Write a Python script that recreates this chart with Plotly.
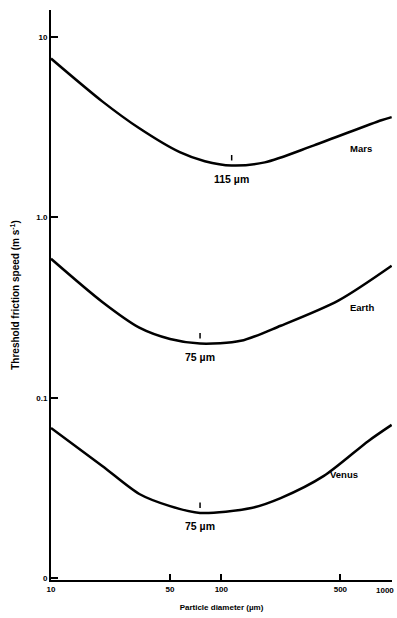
import math
import plotly.graph_objects as go

# Particle diameter (µm) and threshold friction speed (m/s)
mars_d = [10, 20, 33, 57, 80, 115, 180, 350, 870, 1000]
mars_v = [7.6, 4.4, 3.12, 2.30, 2.05, 1.94, 2.02, 2.51, 3.46, 3.6]

earth_d = [10, 20, 33, 50, 75, 130, 223, 486, 1000]
earth_v = [0.59, 0.34, 0.245, 0.212, 0.20, 0.207, 0.251, 0.346, 0.54]

venus_d = [10, 20, 33, 50, 75, 150, 223, 400, 731, 1000]
venus_v = [0.068, 0.0419, 0.0293, 0.0251, 0.023, 0.0245, 0.0278, 0.0369, 0.0577, 0.0708]

planet_names = ["Mars", "Earth", "Venus"]
label_pos_d = [557, 557, 424]
label_pos_v = [2.42, 0.316, 0.0378]

min_d = [115, 75, 75]
min_v = [1.94, 0.20, 0.023]
min_labels = ["115 µm", "75 µm", "75 µm"]

x_tickvals = [10, 50, 100, 500, 1000]
x_ticktext = ["10", "50", "100", "500", ""]
x_last_label = "1000"
y_tickvals = [10, 1, 0.1, 0.01]
y_ticktext = ["10", "1.0", "0.1", "0"]

font_family = "Liberation Sans, Arial, sans-serif"
tick_font = dict(size=8, color="black", family=font_family, weight="bold")

fig = go.Figure()
for d, v in [(mars_d, mars_v), (earth_d, earth_v), (venus_d, venus_v)]:
    fig.add_trace(go.Scatter(x=d, y=v, mode="lines",
                             line=dict(color="black", width=2.5, shape="spline", smoothing=0.8),
                             showlegend=False, hoverinfo="skip"))

# minimum tick marks and labels (annotation coordinates are log10 on log axes)
for md, mv, ml in zip(min_d, min_v, min_labels):
    fig.add_annotation(x=math.log10(md), y=math.log10(mv), xref="x", yref="y", text="",
                       showarrow=True, arrowhead=0, arrowwidth=1.5, arrowcolor="black",
                       ax=0, ay=-12, standoff=5)
    fig.add_annotation(x=math.log10(md), y=math.log10(mv), xref="x", yref="y", text=ml,
                       showarrow=False, yshift=-13,
                       font=dict(size=10.5, color="black", family=font_family, weight="bold"))

for name, ld, lv in zip(planet_names, label_pos_d, label_pos_v):
    fig.add_annotation(x=math.log10(ld), y=math.log10(lv), xref="x", yref="y", text=name,
                       showarrow=False, xanchor="left",
                       font=dict(size=9.5, color="black", family=font_family, weight="bold"))

fig.add_annotation(x=math.log10(x_tickvals[-1]), y=0, xref="x", yref="paper", text=x_last_label,
                   showarrow=False, xanchor="right", yanchor="top", xshift=4, yshift=-4, font=tick_font)

fig.update_xaxes(type="log", range=[1, 3.002], tickvals=x_tickvals, ticktext=x_ticktext,
                 ticks="inside", ticklen=6, tickwidth=1.5, tickcolor="black", automargin=False,
                 showline=True, linecolor="black", linewidth=2, showgrid=False, zeroline=False,
                 tickfont=tick_font,
                 title=dict(text="Particle diameter (µm)", standoff=12,
                            font=dict(size=8, color="black", family=font_family, weight="bold")))
fig.update_yaxes(type="log", range=[-2.01, 1.15], tickvals=y_tickvals, ticktext=y_ticktext,
                 ticks="inside", ticklen=7, tickwidth=1.5, tickcolor="black", automargin=False,
                 showline=True, linecolor="black", linewidth=2, showgrid=False, zeroline=False,
                 tickfont=tick_font,
                 title=dict(text="Threshold friction speed (m s<sup>-1</sup>)", standoff=15,
                            font=dict(size=10, color="black", family=font_family, weight="bold")))

fig.update_layout(width=397, height=618, margin=dict(l=51, r=5, t=10, b=38),
                  plot_bgcolor="white", paper_bgcolor="white")

fig.write_html("out.html", config={"displayModeBar": False},
               post_script="document.body.style.margin='0';document.body.style.overflow='hidden';")
